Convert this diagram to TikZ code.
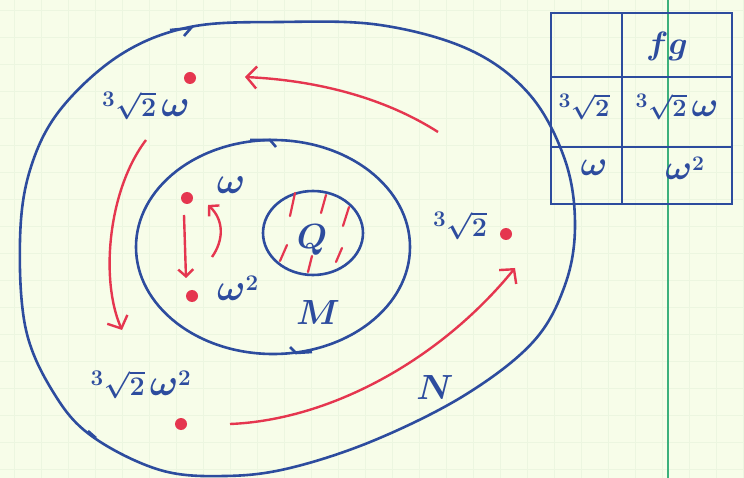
\documentclass[tikz,border=0pt]{standalone}
\usetikzlibrary{arrows.meta,positioning}
\definecolor{paper}{HTML}{F7FDE9}
\definecolor{gridln}{HTML}{ECF6E0}
\definecolor{margin}{HTML}{3CB07C}
\definecolor{pen}{HTML}{2D4C9E}
\definecolor{ink}{HTML}{E5364F}
\newcommand{\cbrt}{{}^{3}\sqrt{2}}
\newcommand{\om}{\mathord{\scalebox{1.4}{$\omega$}}}

\begin{document}
\begin{tikzpicture}[x=1pt, y=-1pt,
    >={Straight Barb[length=10pt, width=22pt]},
    every node/.style={text=pen},
    blob/.style={draw=pen, line width=2.6pt},
    dot/.style={circle, fill=ink, inner sep=0pt, minimum size=12pt},
    lbl/.style={font=\Huge\boldmath, inner sep=0pt,
        xscale=1.08, yscale=1.08, transform shape},
    big/.style={lbl, scale=1.3},
    cell/.style={font=\Huge\boldmath, inner sep=0pt,
        xscale=1.02, transform shape},
    move/.style={->, draw=ink, line width=2.4pt},
    swap/.style={move, >={Straight Barb[length=7pt, width=15pt]}},
    hatch/.style={draw=ink, line width=2.2pt, line cap=round},
]

% Paper
\fill[paper] (0,0) rectangle (744,478);
\useasboundingbox (0,0) rectangle (744,478);
\foreach \gx in {14,41,...,744} \draw[gridln, line width=0.6pt] (\gx,0) -- (\gx,478);
\foreach \gy in {10,37,...,478} \draw[gridln, line width=0.6pt] (0,\gy) -- (744,\gy);
\draw[margin, line width=1.6pt] (668,0) -- (668,478);

% Field N
\draw[blob] plot[smooth cycle, tension=0.6] coordinates {
    (20,240) (30,170) (60,110) (120,55) (190,27) (280,22) (380,25)
    (470,50) (530,95) (565,160) (575,225) (565,285) (533,342)
    (465,395) (375,440) (290,468) (225,476) (160,470) (93,437)
    (55,395) (26,330)};
\draw[blob] (170,30) -- (191,28) -- (184,36);
\draw[blob] (88,431) -- (96,438);

% Field M
\draw[blob] (273,247) ellipse [x radius=137, y radius=107];
\draw[blob] (250,140) -- (270,140) -- (276,147);
\draw[blob] (290,347) -- (296,353) -- (312,352);

% Field Q
\draw[blob] (313,233) ellipse [x radius=50, y radius=42];
\node[big] (q) at (312,240) {$Q$};
\foreach \xa/\ya/\xb/\yb in {295/193/290/216, 326/195/321/213, 349/207/343/226,
                              287/245/280/261, 312/256/308/272, 342/248/336/262}
    \draw[hatch] (\xa,\ya) -- (\xb,\yb);

% Roots
\node[dot] (r1) at (190,78) {};
\node[dot] (w1) at (187,198) {};
\node[dot] (w2) at (192,296) {};
\node[dot] (r0) at (506,234) {};
\node[dot] (r2) at (181,424) {};

% Labels
\node[lbl] (r1l) at (146,106) {$\cbrt\,\om$};
\node[lbl] (w1l) at (231,185) {$\om$};
\node[lbl] (w2l) at (238,288) {$\om^2$};
\node[lbl] (r0l) at (460,226) {$\cbrt$};
\node[lbl] (r2l) at (141,385) {$\cbrt\,\om^2$};
\node[big] (ml) at (318,313) {$M$};
\node[big] (nl) at (435,388) {$N$};

% Permutation f
\coordinate (fa) at (438,132);
\coordinate (fb) at (245,77);
\coordinate (fc) at (146,140);
\coordinate (fd) at (122,330);
\coordinate (fe) at (230,424);
\coordinate (ff) at (515,268);
\draw[move] (fa) .. controls (380,95) and (310,80) .. (fb);
\draw[move] (fc) .. controls (108,190) and (100,280) .. (fd);
\draw[move] (fe) .. controls (330,420) and (440,360) .. (ff);

% Swap g
\coordinate (ga) at (184,215);
\coordinate (gb) at (186,278);
\coordinate (gc) at (212,257);
\coordinate (gd) at (208,205);
\draw[swap] (ga) -- (gb);
\draw[swap] (gc) .. controls (224,240) and (224,220) .. (gd);

% Table
\draw[blob] (551,13) rectangle (732,204);
\draw[blob] (622,13) -- (622,204);
\draw[blob] (551,77) -- (732,77);
\draw[blob] (551,147) -- (732,147);
\node[cell, scale=1.3] (tfg) at (667,46) {$fg$};
\node[cell] (t1) at (584,107) {$\cbrt$};
\node[cell] (t2) at (677,107) {$\cbrt\,\om$};
\node[cell] (t3) at (594,168) {$\om$};
\node[cell] (t4) at (685,168) {$\om^2$};

\end{tikzpicture}
\end{document}
